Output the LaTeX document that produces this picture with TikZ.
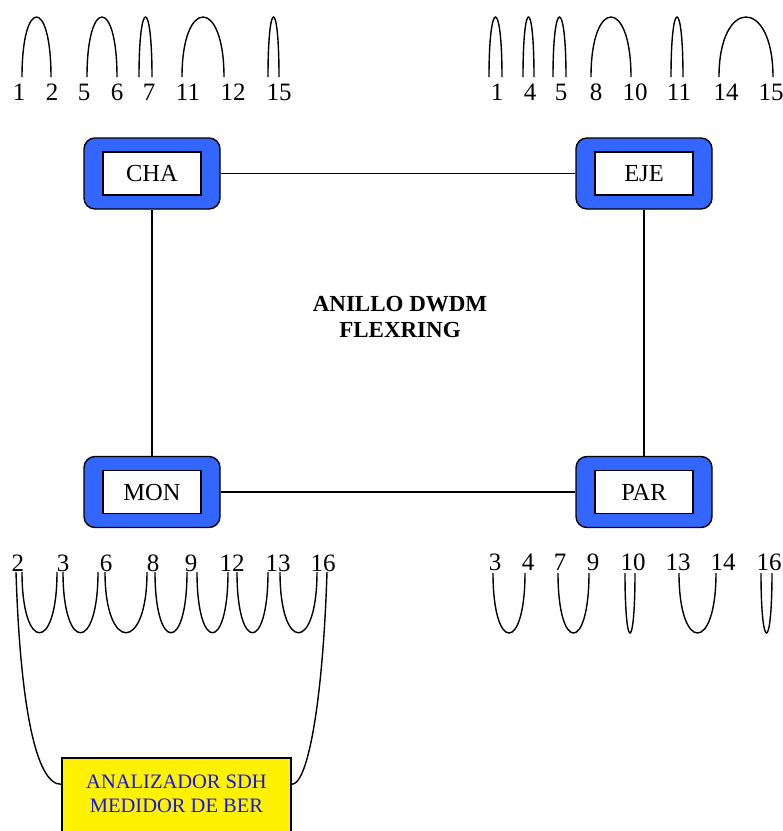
\documentclass[tikz,border=0pt]{standalone}
\usepackage{fontspec}
\setmainfont{Liberation Serif}
\usetikzlibrary{calc}
\definecolor{boxblue}{RGB}{51,102,255}
\definecolor{txtblue}{RGB}{20,20,235}
\begin{document}
\begin{tikzpicture}[x=1pt,y=-1pt,
  outerbox/.style={draw=black, line width=1.4pt, fill=boxblue, rounded corners=11pt,
    minimum width=136pt, minimum height=71pt, inner sep=0pt},
  innerbox/.style={draw=black, line width=1.4pt, fill=white, minimum width=98pt,
    minimum height=43pt, inner sep=0pt, font=\fontsize{24.5}{26}\selectfont},
  num/.style={anchor=base, inner sep=0pt, font=\fontsize{25}{26}\selectfont},
  link/.style={draw=black, line width=1.3pt},
  jumper/.style={draw=black, line width=1.4pt},
  anabox/.style={draw=black, line width=1.4pt, fill=yellow, minimum width=229pt,
    minimum height=84pt, inner sep=0pt},
  anatext/.style={align=center, text=txtblue, inner sep=0pt,
    font=\fontsize{20.5}{24}\selectfont},
  ringtext/.style={align=center, inner sep=0pt, font=\bfseries\fontsize{23}{26}\selectfont}
]
\useasboundingbox (0,0) rectangle (783,831);
\clip (0,0) rectangle (783,831);

% ring nodes
\node[outerbox] (chaO) at (152,173.5) {};
\node[outerbox] (ejeO) at (644,173.5) {};
\node[outerbox] (monO) at (152,492) {};
\node[outerbox] (parO) at (644,492) {};
\node[innerbox] (cha) at (chaO.center) {CHA};
\node[innerbox] (eje) at (ejeO.center) {EJE};
\node[innerbox] (mon) at (monO.center) {MON};
\node[innerbox] (par) at (parO.center) {PAR};

\draw[link] (chaO.east) -- (ejeO.west);
\draw[link] (chaO.south) -- (monO.north);
\draw[link] (ejeO.south) -- (parO.north);
\draw[link] (monO.east) -- (parO.west);

\node[ringtext] (ring) at (400,317) {ANILLO DWDM\\FLEXRING};

% top-left jumpers and labels
\foreach \a/\b in {22/51, 87/117, 139/152, 182/224, 268/279}
  \draw[jumper] (\a,77) .. controls (\a,-3) and (\b,-3) .. (\b,77);
\foreach \x/\t [count=\i] in {19/1, 52/2, 84/5, 117/6, 149/7, 188/11, 233/12, 279/15}
  \node[num] (tl\i) at (\x,100) {\t};

% top-right jumpers and labels
\foreach \a/\b in {489/502, 523/534, 553/566, 591/631, 671/683, 719/773}
  \draw[jumper] (\a,77) .. controls (\a,-3) and (\b,-3) .. (\b,77);
\foreach \x/\t [count=\i] in {497/1, 530/4, 561/5, 596/8, 635/10, 679/11, 726/14, 771/15}
  \node[num] (tr\i) at (\x,100) {\t};

% bottom-left labels and jumpers
\foreach \x/\t [count=\i] in {18/2, 63/3, 106/6, 153/8, 191/9, 232/12, 278/13, 323/16}
  \node[num] (bl\i) at (\x,571) {\t};
\foreach \a/\b in {22/57, 63/98, 105/147, 155/187, 197/228, 237/268, 280/317}
  \draw[jumper] (\a,572) .. controls (\a,653) and (\b,653) .. (\b,572);

% bottom-right labels and jumpers
\foreach \x/\t [count=\i] in {495/3, 528/4, 560/7, 593/9, 633/10, 678/13, 723/14, 769/16}
  \node[num] (br\i) at (\x,570) {\t};
\foreach \a/\b in {493/525, 558/589, 625/635, 679/716, 761/772}
  \draw[jumper] (\a,573) .. controls (\a,653) and (\b,653) .. (\b,573);

% analyzer
\node[anabox] (ana) at (176.5,800) {};
\node[anatext] (anatxt) at (176.5,794) {ANALIZADOR SDH\\MEDIDOR DE BER};
\coordinate (anaL) at ($(ana.north west)+(0,27)$);
\coordinate (anaR) at ($(ana.north east)+(0,27)$);
\coordinate (legL) at (16,572);
\coordinate (legR) at (327,572);
\draw[jumper] (legL) .. controls (20,700) and (35,785) .. (anaL);
\draw[jumper] (legR) .. controls (323,700) and (308,785) .. (anaR);
\end{tikzpicture}
\end{document}
